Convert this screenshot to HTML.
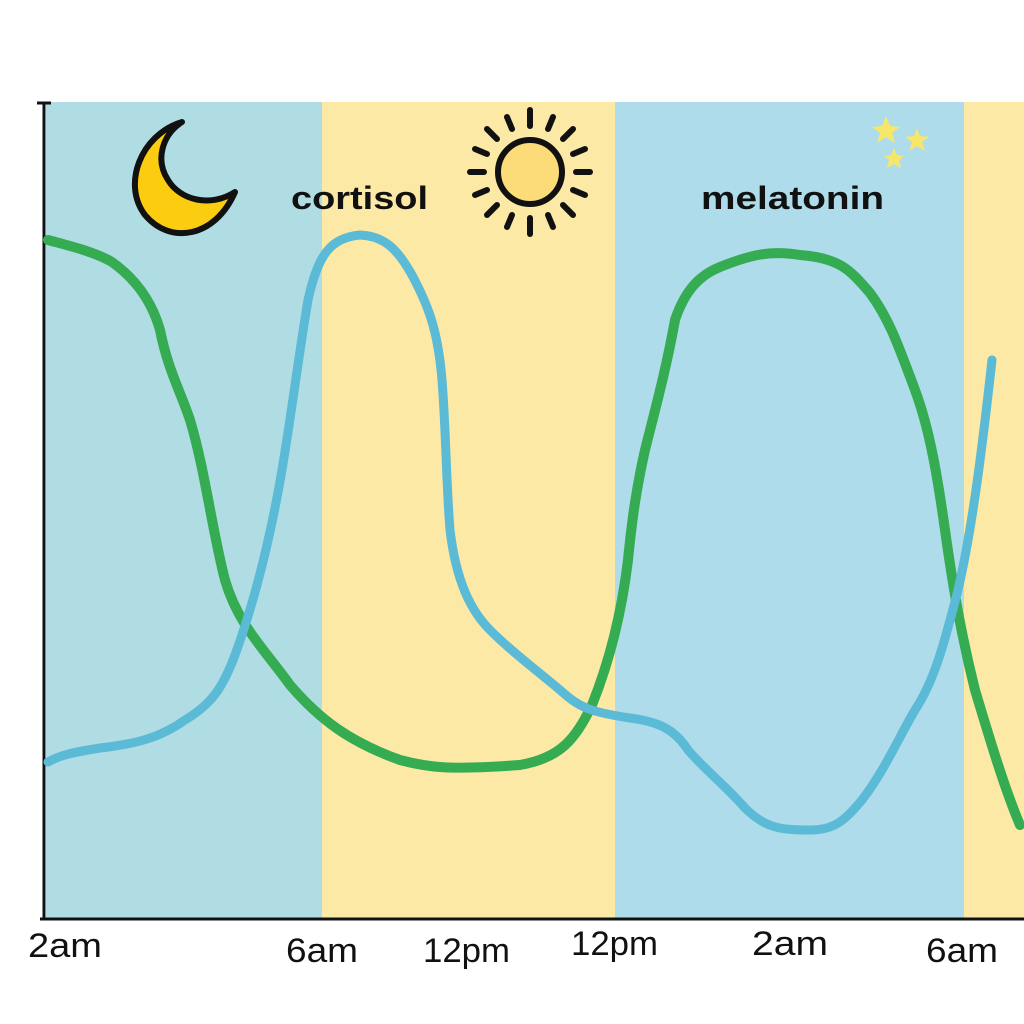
<!DOCTYPE html>
<html><head><style>body{margin:0;background:#fff}svg{display:block}</style></head><body>
<svg width="1024" height="1024" viewBox="0 0 1024 1024" xmlns="http://www.w3.org/2000/svg">
<rect width="1024" height="1024" fill="#fff"/>
<rect x="46" y="102" width="276" height="816" fill="#b0dde4"/>
<rect x="322" y="102" width="293" height="816" fill="#fce9a6"/>
<rect x="615" y="102" width="349" height="816" fill="#aedcea"/>
<rect x="964" y="102" width="60" height="816" fill="#fce9a6"/>
<line x1="44" y1="102" x2="44" y2="920" stroke="#111" stroke-width="3"/>
<line x1="37" y1="103" x2="51" y2="103" stroke="#111" stroke-width="3"/>
<line x1="40" y1="919" x2="1024" y2="919" stroke="#111" stroke-width="3"/>
<path d="M182,122 C140,135 122,185 145,215 C170,245 215,238 235,192 C210,208 180,200 168,180 C155,160 162,135 182,122 Z" fill="#fccc10" stroke="#111" stroke-width="6" stroke-linejoin="round"/>
<g transform="translate(530,172)" stroke="#111" stroke-linecap="round">
<circle r="32" fill="#fbdc78" stroke-width="6"/>
<g stroke-width="6">
<line x1="0" y1="-46" x2="0" y2="-62"/><line x1="0" y1="46" x2="0" y2="62"/>
<line x1="-46" y1="0" x2="-60" y2="0"/><line x1="46" y1="0" x2="60" y2="0"/>
<line x1="33" y1="-33" x2="43" y2="-43"/><line x1="-33" y1="-33" x2="-43" y2="-43"/>
<line x1="33" y1="33" x2="43" y2="43"/><line x1="-33" y1="33" x2="-43" y2="43"/>
<line x1="18" y1="-43" x2="23" y2="-55"/><line x1="-18" y1="-43" x2="-23" y2="-55"/>
<line x1="18" y1="43" x2="23" y2="55"/><line x1="-18" y1="43" x2="-23" y2="55"/>
<line x1="43" y1="-18" x2="55" y2="-23"/><line x1="-43" y1="-18" x2="-55" y2="-23"/>
<line x1="43" y1="18" x2="55" y2="23"/><line x1="-43" y1="18" x2="-55" y2="23"/>
</g></g>
<g fill="#f8e66a">
<polygon points="886,116 890,126 900,127 892,133 895,143 886,137 877,143 880,133 872,127 882,126"/>
<polygon points="917,128 920,136 929,137 922,142 925,151 917,146 909,151 912,142 905,137 914,136"/>
<polygon points="894,148 897,155 904,156 899,160 901,168 894,164 887,168 889,160 884,156 891,155"/>
</g>
<g font-family="Liberation Sans, sans-serif" font-weight="bold" font-size="32" fill="#111">
<text x="291" y="209" textLength="137" lengthAdjust="spacingAndGlyphs">cortisol</text>
<text x="701" y="209" textLength="183" lengthAdjust="spacingAndGlyphs">melatonin</text>
</g>
<path d="M48,240 C70,246 95,252 112,262 C130,275 150,295 160,330 C168,370 180,390 190,420 C205,470 212,530 225,580 C238,625 265,650 290,685 C320,720 350,742 400,760 C430,768 450,770 520,765 C560,758 575,740 592,705 C610,660 622,610 628,560 C632,520 636,490 645,450 C655,410 666,370 675,320 C685,290 700,275 720,267 C750,255 770,250 800,255 C840,258 850,270 870,293 C890,320 900,350 915,390 C930,430 938,480 945,530 C952,580 960,630 975,690 C990,740 1005,790 1020,825" fill="none" stroke="#35ab52" stroke-width="10" stroke-linecap="round" stroke-linejoin="round"/>
<path d="M48,762 C60,755 75,752 100,748 C135,744 160,738 185,720 C210,705 222,690 235,655 C255,600 270,540 282,470 C292,410 298,360 308,300 C318,255 330,238 360,235 C385,236 398,250 412,275 C428,305 438,330 442,380 C446,430 446,480 450,530 C456,580 470,610 490,630 C510,650 530,665 560,690 C580,708 590,712 630,718 C660,722 675,730 688,750 C705,770 725,785 745,808 C765,828 780,830 810,830 C835,830 845,820 862,800 C885,770 900,735 915,710 C935,680 945,640 958,590 C972,530 982,450 992,360" fill="none" stroke="#5bbad6" stroke-width="9" stroke-linecap="round" stroke-linejoin="round"/>
<g font-family="Liberation Sans, sans-serif" font-size="34" fill="#111">
<text x="28" y="957" textLength="74" lengthAdjust="spacingAndGlyphs">2am</text>
<text x="286" y="962" textLength="72" lengthAdjust="spacingAndGlyphs">6am</text>
<text x="423" y="962" textLength="87" lengthAdjust="spacingAndGlyphs">12pm</text>
<text x="571" y="955" textLength="87" lengthAdjust="spacingAndGlyphs">12pm</text>
<text x="752" y="955" textLength="76" lengthAdjust="spacingAndGlyphs">2am</text>
<text x="926" y="962" textLength="72" lengthAdjust="spacingAndGlyphs">6am</text>
</g>
</svg>
</body></html>
